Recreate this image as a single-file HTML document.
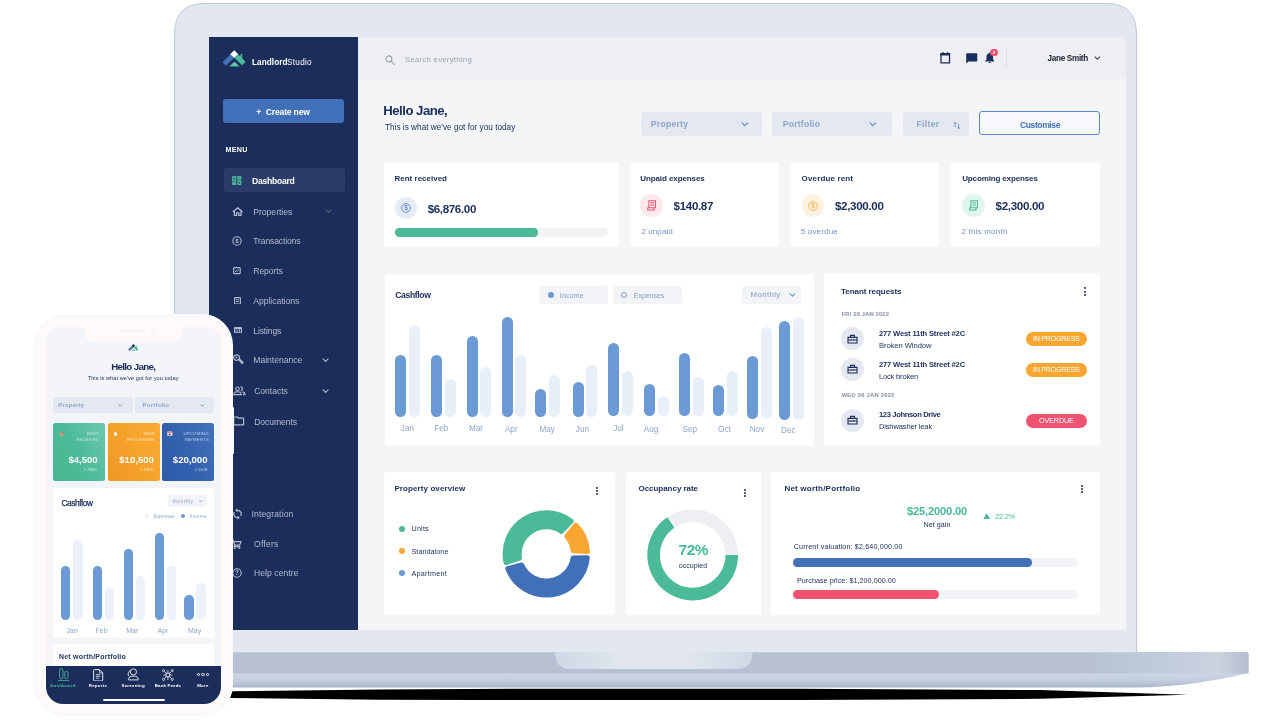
<!DOCTYPE html>
<html lang="en"><head><meta charset="utf-8"><title>Landlord Studio</title>
<style>
html,body{margin:0;padding:0;background:#fff;}
body{width:1280px;height:720px;position:relative;overflow:hidden;font-family:"Liberation Sans",sans-serif;}
body>div,body>svg,body>span{position:absolute;}
.t{position:absolute;white-space:nowrap;line-height:1.08;}
</style></head><body>
<svg style="left:0;top:0" width="1280" height="720" viewBox="0 0 1280 720"><defs><linearGradient id="gb" x1="0" x2="1" y1="0" y2="0"><stop offset="0" stop-color="#b7c1d3"/><stop offset="0.86" stop-color="#b7c1d3"/><stop offset="0.9" stop-color="#bcc7da"/><stop offset="0.935" stop-color="#c1ccde"/><stop offset="0.96" stop-color="#c7d0de"/><stop offset="0.974" stop-color="#ccd3dd"/><stop offset="0.986" stop-color="#c0c9d8"/><stop offset="1" stop-color="#b4bfd1"/></linearGradient><linearGradient id="gu" x1="0" x2="0" y1="0" y2="1"><stop offset="0" stop-color="#cdd7e6"/><stop offset="0.5" stop-color="#c3cee0"/><stop offset="1" stop-color="#aab5ca"/></linearGradient><linearGradient id="gn" x1="0" x2="1" y1="0" y2="0"><stop offset="0" stop-color="#cfd8e5"/><stop offset="0.33" stop-color="#e1e6ef"/><stop offset="0.67" stop-color="#e1e6ef"/><stop offset="1" stop-color="#cfd8e5"/></linearGradient></defs><path d="M60 693.3 L232 691.2 L380 689.4 L520 688.8 L800 688.8 L1040 690 L1188 694.7 L1040 698.8 L800 700 L480 700 L380 699.7 L232 698 L60 696 Z" fill="#000"/><path d="M60 673 L1248.7 673 C1215 681 1175 687.5 1135 687.5 L60 687.5 Z" fill="url(#gu)"/><path d="M60 652 L1246.7 652 Q1248.7 652 1248.7 654 L1248.7 673.5 L60 673.5 Z" fill="url(#gb)"/><path d="M174.5 652.2 L174.5 34 Q174.5 3.5 205 3.5 L1106 3.5 Q1136.5 3.5 1136.5 34 L1136.5 652.2 Z" fill="#e2e7f0"/><path d="M174.5 652 L174.5 34 Q174.5 3.5 205 3.5 L1106 3.5 Q1136.5 3.5 1136.5 34 L1136.5 652" fill="none" stroke="#bfc9d8" stroke-width="1"/><path d="M555 652 L752.5 652 Q752.5 669 737 669 L570.5 669 Q555 669 555 652 Z" fill="url(#gn)"/></svg>
<div style="left:209.0px;top:37.0px;width:917.3px;height:593.0px;background:#f3f5f7;"></div>
<div style="left:358.0px;top:37.0px;width:768.3px;height:42.2px;background:#eeeff2;"></div>
<div style="left:209.0px;top:37.0px;width:149.0px;height:593.0px;background:#1b2d5a;"></div>
<svg style="left:222.30px;top:50.40px;" width="24.00" height="17.00" viewBox="0 0 24 17"><polygon points="8.4,4.5 0.4,12.2 3.9,15.65 12.0,7.9" fill="#4170b8"/><polygon points="12.3,0.2 16.2,4.3 12.3,8.0 8.1,4.3" fill="#fff"/><polygon points="15.9,4.5 12.6,7.9 20.0,15.2 23.6,12.0 20.2,8.35 20.2,4.1 18.5,4.1 18.5,6.6" fill="#4aba98"/><polygon points="7.3,16.5 17.6,16.5 12.5,11.4" fill="#62c4a6"/></svg>
<span class="t" style="left:252.00px;top:59.27px;font-size:8.20px;color:#fff;"><b style="letter-spacing:0.066px;margin-right:-0.50px">Landlord</b><span style="letter-spacing:0.275px">Studio</span></span>
<div style="left:222.5px;top:99.0px;width:121.3px;height:24.4px;background:#4170b8;border-radius:3.0px;"></div>
<span class="t" style="left:256.20px;top:107.66px;font-size:8.60px;color:#fff;font-weight:700;white-space:pre;"><span style="margin-right:2.19px">+ </span><span style="letter-spacing:-0.189px">Create new</span></span>
<span class="t" style="left:225.60px;top:146.01px;font-size:7.20px;color:#fff;font-weight:700;letter-spacing:0.200px;">MENU</span>
<div style="left:224.3px;top:168.3px;width:120.7px;height:23.7px;background:#2a3c69;border-radius:3.0px;"></div>
<span class="t" style="left:252.00px;top:176.86px;font-size:8.60px;color:#fff;font-weight:700;letter-spacing:-0.269px;">Dashboard</span>
<span class="t" style="left:253.30px;top:208.06px;font-size:8.60px;color:#b3bccf;letter-spacing:-0.020px;">Properties</span>
<span class="t" style="left:253.30px;top:237.06px;font-size:8.60px;color:#b3bccf;letter-spacing:-0.159px;">Transactions</span>
<span class="t" style="left:253.30px;top:267.26px;font-size:8.60px;color:#b3bccf;letter-spacing:-0.088px;">Reports</span>
<span class="t" style="left:253.30px;top:296.96px;font-size:8.60px;color:#b3bccf;letter-spacing:-0.031px;">Applications</span>
<span class="t" style="left:253.30px;top:326.66px;font-size:8.60px;color:#b3bccf;letter-spacing:-0.145px;">Listings</span>
<span class="t" style="left:253.30px;top:356.26px;font-size:8.60px;color:#b3bccf;letter-spacing:-0.022px;">Maintenance</span>
<span class="t" style="left:254.20px;top:387.26px;font-size:8.60px;color:#b3bccf;letter-spacing:-0.042px;">Contacts</span>
<span class="t" style="left:254.20px;top:417.56px;font-size:8.60px;color:#b3bccf;letter-spacing:-0.077px;">Documents</span>
<span class="t" style="left:251.50px;top:510.26px;font-size:8.60px;color:#b3bccf;letter-spacing:0.124px;">Integration</span>
<span class="t" style="left:254.00px;top:540.26px;font-size:8.60px;color:#b3bccf;letter-spacing:0.207px;">Offers</span>
<span class="t" style="left:254.00px;top:568.86px;font-size:8.60px;color:#b3bccf;letter-spacing:0.047px;">Help centre</span>
<svg style="left:324.90px;top:209.25px;" width="7.20" height="4.50" viewBox="0 0 8 5"><path d="M1.2 1 L4 3.8 L6.8 1" fill="none" stroke="#5b5f5c" stroke-width="1.2" stroke-linecap="round" stroke-linejoin="round"/></svg>
<svg style="left:322.20px;top:358.25px;" width="7.20" height="4.50" viewBox="0 0 8 5"><path d="M1.2 1 L4 3.8 L6.8 1" fill="none" stroke="#b3bccf" stroke-width="1.2" stroke-linecap="round" stroke-linejoin="round"/></svg>
<svg style="left:322.20px;top:388.95px;" width="7.20" height="4.50" viewBox="0 0 8 5"><path d="M1.2 1 L4 3.8 L6.8 1" fill="none" stroke="#b3bccf" stroke-width="1.2" stroke-linecap="round" stroke-linejoin="round"/></svg>
<svg style="left:232.30px;top:175.60px;" width="9.60" height="9.40" viewBox="0 0 9.6 9.4"><g fill="none" stroke="#4aba98" stroke-width="1.5"><rect x="0.9" y="0.9" width="2.6" height="4"/><rect x="6" y="0.9" width="2.6" height="2"/><rect x="0.9" y="7" width="2.6" height="1.5"/><rect x="6" y="5" width="2.6" height="3.5"/></g></svg>
<svg style="left:231.60px;top:206.60px;" width="11.40" height="9.40" viewBox="0 0 11.4 9.4"><path d="M0.8 5 L5.7 0.8 L10.6 5 M2.4 4.2 V8.7 H4.6 V6 H6.8 V8.7 H9 V4.2" fill="none" stroke="#b3bccf" stroke-width="1.25" stroke-linejoin="round"/></svg>
<svg style="left:231.80px;top:236.30px;" width="10.00" height="10.00" viewBox="0 0 10 10"><circle cx="5" cy="5" r="4.2" fill="none" stroke="#b3bccf" stroke-width="1.1"/><text x="5" y="7.3" font-size="6.2" font-weight="700" text-anchor="middle" fill="#b3bccf" font-family="Liberation Sans, sans-serif">$</text></svg>
<svg style="left:233.20px;top:267.20px;" width="8.00" height="7.60" viewBox="0 0 8 7.6"><rect x="0.6" y="0.6" width="6.6" height="6" rx="0.7" fill="none" stroke="#b3bccf" stroke-width="1.1"/><path d="M2 5.2 L3.2 3.6 L4.4 4.4 L5.8 2.4" fill="none" stroke="#b3bccf" stroke-width="0.9"/></svg>
<svg style="left:233.80px;top:296.60px;" width="7.20" height="7.80" viewBox="0 0 7.2 7.8"><rect x="0.6" y="0.6" width="5.8" height="6.4" rx="0.5" fill="none" stroke="#b3bccf" stroke-width="1.1"/><path d="M2 2.8 H5 M2 4.6 H5" stroke="#b3bccf" stroke-width="0.9"/></svg>
<svg style="left:233.70px;top:326.60px;" width="8.20" height="6.60" viewBox="0 0 8.2 6.6"><rect x="0.55" y="0.55" width="6.9" height="5.2" rx="0.4" fill="none" stroke="#b3bccf" stroke-width="1.1"/><path d="M0.5 1.4 H7.5" stroke="#b3bccf" stroke-width="1.5"/><path d="M5.4 1.6 V5.6" stroke="#b3bccf" stroke-width="0.9"/><path d="M1.4 3.4 H4.4 M1.4 4.6 H4.4" stroke="#b3bccf" stroke-width="0.6"/></svg>
<svg style="left:232.50px;top:354.40px;" width="11.00" height="11.00" viewBox="0 0 11 11"><path d="M3.4 0.8 a2.8 2.8 0 1 0 2.2 4.6 L9.2 9.6 L10.2 8.6 L6.2 4.6 a2.8 2.8 0 0 0 -2.8 -3.8 Z" fill="none" stroke="#b3bccf" stroke-width="1.2" stroke-linejoin="round"/><circle cx="3.4" cy="3.4" r="0.9" fill="#b3bccf"/></svg>
<svg style="left:232.80px;top:386.40px;" width="13.00" height="10.00" viewBox="0 0 13 10"><circle cx="4.5" cy="2.8" r="1.8" fill="none" stroke="#b3bccf" stroke-width="1.1"/><path d="M0.8 8.6 C0.8 6.4 2.6 5.8 4.5 5.8 C6.4 5.8 8.2 6.4 8.2 8.6 Z" fill="none" stroke="#b3bccf" stroke-width="1.1"/><path d="M7.6 0.9 a1.9 1.9 0 0 1 0 3.8 M9.4 5.9 c1.6 0.3 2.6 1 2.6 2.7 h-2" fill="none" stroke="#b3bccf" stroke-width="1.1"/></svg>
<svg style="left:233.00px;top:416.20px;" width="12.00" height="10.00" viewBox="0 0 12 10"><path d="M0.7 1 H4.2 L5.4 2.2 H10.6 V8.8 H0.7 Z" fill="none" stroke="#b3bccf" stroke-width="1.2" stroke-linejoin="round"/></svg>
<svg style="left:232.80px;top:508.00px;" width="9.00" height="12.00" viewBox="0 0 9 12"><path d="M4.5 2.3 a3.7 3.7 0 0 1 3.2 5.6 M4.5 9.7 a3.7 3.7 0 0 1 -3.2 -5.6" fill="none" stroke="#b3bccf" stroke-width="1.2"/><path d="M4.5 0.2 L4.5 4.4 L2.2 2.3 Z M4.5 7.6 L4.5 11.8 L6.8 9.7 Z" fill="#b3bccf"/></svg>
<svg style="left:231.20px;top:538.80px;" width="10.60" height="10.60" viewBox="0 0 10.6 10.6"><path d="M0.5 1 H2.2 L3.6 6.2 H8.6 L10 2.6 H2.8 M3.6 6.2 L3 7.6 H9.2" fill="none" stroke="#b3bccf" stroke-width="1.2" stroke-linejoin="round"/><circle cx="3.8" cy="9.3" r="0.95" fill="#b3bccf"/><circle cx="8.4" cy="9.3" r="0.95" fill="#b3bccf"/></svg>
<svg style="left:232.30px;top:568.20px;" width="10.00" height="10.00" viewBox="0 0 10 10"><circle cx="5" cy="5" r="4.2" fill="none" stroke="#b3bccf" stroke-width="1.1"/><text x="5" y="7.3" font-size="6.4" font-weight="700" text-anchor="middle" fill="#b3bccf" font-family="Liberation Sans, sans-serif">?</text></svg>
<svg style="left:384.60px;top:55.20px;" width="10.00" height="10.40" viewBox="0 0 10 10.4"><circle cx="3.9" cy="3.9" r="3" fill="none" stroke="#9aa1ad" stroke-width="1.05"/><path d="M6.2 6.2 L9.2 9.4" stroke="#9aa1ad" stroke-width="1.2" stroke-linecap="round"/></svg>
<span class="t" style="left:405.00px;top:56.19px;font-size:7.80px;color:#9aa3b5;letter-spacing:0.243px;">Search everything</span>
<svg style="left:940.00px;top:52.00px;" width="10.50" height="11.50" viewBox="0 0 10.5 11.5"><path d="M1 1.6 H9.5 V10.8 H1 Z" fill="none" stroke="#1b2d5a" stroke-width="1.3"/><path d="M0.4 1 H10.1 V3.6 H0.4 Z M2.4 0 H3.6 V1.4 H2.4 Z M6.9 0 H8.1 V1.4 H6.9 Z" fill="#1b2d5a"/></svg>
<svg style="left:966.00px;top:53.00px;" width="11.50" height="10.80" viewBox="0 0 11.5 10.8"><path d="M1 0.3 H10.5 Q11.3 0.3 11.3 1.1 V7.6 Q11.3 8.4 10.5 8.4 H2.6 L0.2 10.6 V1.1 Q0.2 0.3 1 0.3 Z" fill="#1b2d5a"/></svg>
<svg style="left:984.60px;top:52.00px;" width="9.60" height="11.60" viewBox="0 0 9.6 11.6"><path d="M4.8 0.4 C5.3 0.4 5.6 0.8 5.6 1.3 C7.3 1.8 8.1 3.2 8.1 5 V7.6 L9.4 8.9 V9.5 H0.2 V8.9 L1.5 7.6 V5 C1.5 3.2 2.3 1.8 4 1.3 C4 0.8 4.3 0.4 4.8 0.4 Z M3.7 10.1 H5.9 A1.1 1.1 0 0 1 3.7 10.1 Z" fill="#1b2d5a"/></svg>
<div style="left:990.3px;top:48.8px;width:7.4px;height:7.4px;background:#f0506e;border-radius:50%;"></div>
<span class="t" style="left:992.83px;top:51.23px;font-size:4.20px;color:#fff;font-weight:700;">2</span>
<div style="left:1005.6px;top:46.2px;width:1.0px;height:22.0px;background:#dfe1e6;"></div>
<span class="t" style="left:1047.60px;top:54.67px;font-size:8.20px;color:#1a1f2c;font-weight:700;letter-spacing:-0.335px;">Jane Smith</span>
<svg style="left:1093.60px;top:56.08px;" width="6.80" height="4.25" viewBox="0 0 8 5"><path d="M1.2 1 L4 3.8 L6.8 1" fill="none" stroke="#3a4152" stroke-width="1.2" stroke-linecap="round" stroke-linejoin="round"/></svg>
<span class="t" style="left:383.30px;top:103.87px;font-size:13.20px;color:#1b2d5a;font-weight:700;letter-spacing:-0.518px;">Hello Jane,</span>
<span class="t" style="left:385.00px;top:124.17px;font-size:8.20px;color:#1b2d5a;letter-spacing:0.024px;">This is what we&#x27;ve got for you today</span>
<div style="left:640.5px;top:112.0px;width:121.2px;height:24.0px;background:#e3e8f1;border-radius:3.0px;"></div>
<span class="t" style="left:650.80px;top:120.46px;font-size:8.60px;color:#8ea4cc;font-weight:700;letter-spacing:0.267px;">Property</span>
<svg style="left:741.00px;top:121.83px;" width="7.60" height="4.75" viewBox="0 0 8 5"><path d="M1.2 1 L4 3.8 L6.8 1" fill="none" stroke="#6f8fc6" stroke-width="1.3" stroke-linecap="round" stroke-linejoin="round"/></svg>
<div style="left:771.5px;top:112.0px;width:120.5px;height:24.0px;background:#e3e8f1;border-radius:3.0px;"></div>
<span class="t" style="left:782.70px;top:120.26px;font-size:8.60px;color:#8ea4cc;font-weight:700;letter-spacing:0.239px;">Portfolio</span>
<svg style="left:868.60px;top:122.03px;" width="7.60" height="4.75" viewBox="0 0 8 5"><path d="M1.2 1 L4 3.8 L6.8 1" fill="none" stroke="#6f8fc6" stroke-width="1.3" stroke-linecap="round" stroke-linejoin="round"/></svg>
<div style="left:902.8px;top:112.0px;width:66.0px;height:24.0px;background:#e3e8f1;border-radius:3.0px;"></div>
<span class="t" style="left:916.50px;top:120.06px;font-size:8.60px;color:#8ea4cc;font-weight:700;letter-spacing:0.329px;">Filter</span>
<svg style="left:952.50px;top:120.50px;" width="8.00" height="9.00" viewBox="0 0 8 9"><path d="M2.2 6 V1.2 M0.8 2.6 L2.2 1.2 L3.6 2.6 M5.6 3 V7.8 M4.2 6.4 L5.6 7.8 L7 6.4" fill="none" stroke="#6f8fc6" stroke-width="0.9"/></svg>
<div style="left:979px;top:111px;width:120.6px;height:24.4px;box-sizing:border-box;border:1px solid #5d86c6;border-radius:3px;background:#f6f8fb"></div>
<span class="t" style="left:1020.00px;top:120.66px;font-size:8.60px;color:#4170b8;font-weight:700;letter-spacing:-0.441px;">Customise</span>
<div style="left:384.3px;top:162.4px;width:234.5px;height:84.9px;background:#fff;border-radius:3.0px;"></div>
<div style="left:629.9px;top:162.4px;width:149.2px;height:84.9px;background:#fff;border-radius:3.0px;"></div>
<div style="left:790.0px;top:162.4px;width:149.2px;height:84.9px;background:#fff;border-radius:3.0px;"></div>
<div style="left:950.2px;top:162.4px;width:149.7px;height:84.9px;background:#fff;border-radius:3.0px;"></div>
<span class="t" style="left:394.50px;top:174.78px;font-size:8.00px;color:#1b2d5a;font-weight:700;letter-spacing:0.002px;">Rent received</span>
<span class="t" style="left:640.20px;top:174.98px;font-size:8.00px;color:#1b2d5a;font-weight:700;letter-spacing:-0.087px;">Unpaid expenses</span>
<span class="t" style="left:801.60px;top:174.98px;font-size:8.00px;color:#1b2d5a;font-weight:700;letter-spacing:0.142px;">Overdue rent</span>
<span class="t" style="left:962.20px;top:174.98px;font-size:8.00px;color:#1b2d5a;font-weight:700;letter-spacing:-0.135px;">Upcoming expenses</span>
<div style="left:394.5px;top:196.9px;width:22.6px;height:22.6px;background:#e6ecf7;border-radius:50%;"></div>
<svg style="left:400.80px;top:203.20px;" width="10.00" height="10.00" viewBox="0 0 9 9"><circle cx="4.5" cy="4.5" r="3.9" fill="none" stroke="#4170b8" stroke-width="0.7"/><text x="4.5" y="6.6" font-size="5.8" font-weight="400" text-anchor="middle" fill="#4170b8" font-family="Liberation Sans, sans-serif">$</text></svg>
<span class="t" style="left:427.70px;top:203.44px;font-size:11.60px;color:#1b2d5a;font-weight:700;letter-spacing:-0.367px;">$6,876.00</span>
<div style="left:395.0px;top:228.1px;width:212.5px;height:8.6px;background:#f1f3f6;border-radius:4.3px;"></div>
<div style="left:395.0px;top:228.1px;width:142.5px;height:8.6px;background:#4aba98;border-radius:4.3px;"></div>
<div style="left:640.3px;top:194.3px;width:22.6px;height:22.6px;background:#fde8ec;border-radius:50%;"></div>
<svg style="left:646.90px;top:200.30px;" width="9.40" height="11.00" viewBox="0 0 8 9.4"><path d="M1.6 0.6 H7.2 V6.6 H1.6 Z M0.6 6.6 H6 V8.6 H0.6 Z M2.8 2.4 H6 M2.8 4.2 H6" fill="none" stroke="#ef5370" stroke-width="0.9"/></svg>
<span class="t" style="left:673.60px;top:200.14px;font-size:11.60px;color:#1b2d5a;font-weight:700;letter-spacing:-0.347px;">$140.87</span>
<span class="t" style="left:641.40px;top:227.53px;font-size:8.10px;color:#7690c6;letter-spacing:0.053px;">2 unpaid</span>
<div style="left:801.7px;top:194.3px;width:22.6px;height:22.6px;background:#fef1e0;border-radius:50%;"></div>
<svg style="left:808.00px;top:200.60px;" width="10.00" height="10.00" viewBox="0 0 9 9"><circle cx="4.5" cy="4.5" r="3.9" fill="none" stroke="#f9a531" stroke-width="0.7"/><text x="4.5" y="6.6" font-size="5.8" font-weight="400" text-anchor="middle" fill="#f9a531" font-family="Liberation Sans, sans-serif">$</text></svg>
<span class="t" style="left:835.00px;top:200.14px;font-size:11.60px;color:#1b2d5a;font-weight:700;letter-spacing:-0.334px;">$2,300.00</span>
<span class="t" style="left:800.80px;top:227.53px;font-size:8.10px;color:#7690c6;letter-spacing:0.130px;">5 overdue</span>
<div style="left:962.3px;top:194.3px;width:22.6px;height:22.6px;background:#e2f4ee;border-radius:50%;"></div>
<svg style="left:968.90px;top:200.30px;" width="9.40" height="11.00" viewBox="0 0 8 9.4"><path d="M1.6 0.6 H7.2 V6.6 H1.6 Z M0.6 6.6 H6 V8.6 H0.6 Z M2.8 2.4 H6 M2.8 4.2 H6" fill="none" stroke="#4aba98" stroke-width="0.9"/></svg>
<span class="t" style="left:995.60px;top:200.14px;font-size:11.60px;color:#1b2d5a;font-weight:700;letter-spacing:-0.334px;">$2,300.00</span>
<span class="t" style="left:961.40px;top:227.53px;font-size:8.10px;color:#7690c6;letter-spacing:0.173px;">2 this month</span>
<div style="left:384.6px;top:273.6px;width:429.0px;height:172.4px;background:#fff;border-radius:3.0px;"></div>
<span class="t" style="left:395.20px;top:291.26px;font-size:8.60px;color:#1b2d5a;font-weight:700;letter-spacing:-0.353px;">Cashflow</span>
<div style="left:539.3px;top:286.2px;width:68.7px;height:17.6px;background:#f2f4f8;border-radius:3.0px;"></div>
<div style="left:547.5px;top:291.8px;width:6.4px;height:6.4px;background:#6b9ad4;border-radius:50%;"></div>
<span class="t" style="left:559.80px;top:291.62px;font-size:7.00px;color:#8299c6;letter-spacing:0.174px;">Income</span>
<div style="left:613.0px;top:286.2px;width:68.7px;height:17.6px;background:#f2f4f8;border-radius:3.0px;"></div>
<div style="left:620.9px;top:291.5px;width:6.6px;height:6.6px;box-sizing:border-box;border:0.85px solid #7d97c4;border-radius:50%"></div>
<span class="t" style="left:633.80px;top:291.62px;font-size:7.00px;color:#8299c6;letter-spacing:-0.030px;">Expenses</span>
<div style="left:742.0px;top:286.2px;width:59.3px;height:17.6px;background:#f2f4f8;border-radius:3.0px;"></div>
<span class="t" style="left:750.60px;top:291.09px;font-size:7.80px;color:#8299c6;letter-spacing:0.384px;">Monthly</span>
<svg style="left:788.90px;top:293.27px;" width="6.80" height="4.25" viewBox="0 0 8 5"><path d="M1.2 1 L4 3.8 L6.8 1" fill="none" stroke="#6f8fc6" stroke-width="1.2" stroke-linecap="round" stroke-linejoin="round"/></svg>
<div style="left:409.2px;top:325.0px;width:11.0px;height:92.4px;background:#e8eff9;border-radius:5.5px;"></div>
<div style="left:395.2px;top:354.9px;width:11.0px;height:62.5px;background:#6b9ad4;border-radius:5.5px;"></div>
<div style="left:444.8px;top:378.6px;width:11.0px;height:38.8px;background:#e8eff9;border-radius:5.5px;"></div>
<div style="left:430.8px;top:354.9px;width:11.0px;height:62.5px;background:#6b9ad4;border-radius:5.5px;"></div>
<div style="left:480.4px;top:366.7px;width:11.0px;height:50.7px;background:#e8eff9;border-radius:5.5px;"></div>
<div style="left:466.7px;top:335.8px;width:11.0px;height:81.6px;background:#6b9ad4;border-radius:5.5px;"></div>
<div style="left:515.2px;top:355.2px;width:11.0px;height:62.2px;background:#e8eff9;border-radius:5.5px;"></div>
<div style="left:501.6px;top:316.8px;width:11.0px;height:100.6px;background:#6b9ad4;border-radius:5.5px;"></div>
<div style="left:549.4px;top:375.0px;width:11.0px;height:42.4px;background:#e8eff9;border-radius:5.5px;"></div>
<div style="left:535.3px;top:388.6px;width:11.0px;height:28.8px;background:#6b9ad4;border-radius:5.5px;"></div>
<div style="left:586.4px;top:365.3px;width:11.0px;height:51.4px;background:#e8eff9;border-radius:5.5px;"></div>
<div style="left:572.7px;top:381.8px;width:11.0px;height:34.9px;background:#6b9ad4;border-radius:5.5px;"></div>
<div style="left:622.0px;top:370.7px;width:11.0px;height:45.3px;background:#e8eff9;border-radius:5.5px;"></div>
<div style="left:607.9px;top:343.0px;width:11.0px;height:73.0px;background:#6b9ad4;border-radius:5.5px;"></div>
<div style="left:657.9px;top:395.8px;width:11.0px;height:20.2px;background:#e8eff9;border-radius:5.5px;"></div>
<div style="left:643.9px;top:384.3px;width:11.0px;height:31.7px;background:#6b9ad4;border-radius:5.5px;"></div>
<div style="left:692.7px;top:376.8px;width:11.0px;height:39.2px;background:#e8eff9;border-radius:5.5px;"></div>
<div style="left:678.7px;top:353.0px;width:11.0px;height:63.0px;background:#6b9ad4;border-radius:5.5px;"></div>
<div style="left:726.9px;top:371.0px;width:11.0px;height:45.0px;background:#e8eff9;border-radius:5.5px;"></div>
<div style="left:712.9px;top:385.4px;width:11.0px;height:30.6px;background:#6b9ad4;border-radius:5.5px;"></div>
<div style="left:761.0px;top:326.5px;width:11.0px;height:92.3px;background:#e8eff9;border-radius:5.5px;"></div>
<div style="left:747.0px;top:356.0px;width:11.0px;height:62.8px;background:#6b9ad4;border-radius:5.5px;"></div>
<div style="left:792.6px;top:316.8px;width:11.0px;height:103.5px;background:#e8eff9;border-radius:5.5px;"></div>
<div style="left:779.0px;top:321.4px;width:11.0px;height:98.9px;background:#6b9ad4;border-radius:5.5px;"></div>
<span class="t" style="left:400.79px;top:424.97px;font-size:8.20px;color:#8ea4cc;">Jan</span>
<span class="t" style="left:434.13px;top:425.07px;font-size:8.20px;color:#8ea4cc;">Feb</span>
<span class="t" style="left:468.94px;top:425.27px;font-size:8.20px;color:#8ea4cc;">Mar</span>
<span class="t" style="left:504.92px;top:425.67px;font-size:8.20px;color:#8ea4cc;">Apr</span>
<span class="t" style="left:539.45px;top:425.67px;font-size:8.20px;color:#8ea4cc;">May</span>
<span class="t" style="left:575.79px;top:425.67px;font-size:8.20px;color:#8ea4cc;">Jun</span>
<span class="t" style="left:613.16px;top:425.47px;font-size:8.20px;color:#8ea4cc;">Jul</span>
<span class="t" style="left:643.70px;top:426.27px;font-size:8.20px;color:#8ea4cc;">Aug</span>
<span class="t" style="left:682.60px;top:426.47px;font-size:8.20px;color:#8ea4cc;">Sep</span>
<span class="t" style="left:718.02px;top:426.27px;font-size:8.20px;color:#8ea4cc;">Oct</span>
<span class="t" style="left:749.71px;top:426.27px;font-size:8.20px;color:#8ea4cc;">Nov</span>
<span class="t" style="left:781.01px;top:426.77px;font-size:8.20px;color:#8ea4cc;">Dec</span>
<div style="left:824.4px;top:273.4px;width:275.6px;height:172.6px;background:#fff;border-radius:3.0px;"></div>
<span class="t" style="left:841.00px;top:288.38px;font-size:8.00px;color:#1b2d5a;font-weight:700;letter-spacing:-0.047px;">Tenant requests</span>
<div style="left:1084.3px;top:287.4px;width:2.0px;height:2.0px;background:#1b2d5a;border-radius:50%;"></div>
<div style="left:1084.3px;top:290.5px;width:2.0px;height:2.0px;background:#1b2d5a;border-radius:50%;"></div>
<div style="left:1084.3px;top:293.6px;width:2.0px;height:2.0px;background:#1b2d5a;border-radius:50%;"></div>
<span class="t" style="left:841.70px;top:311.32px;font-size:5.70px;color:#9aa2b1;font-weight:700;letter-spacing:0.210px;-webkit-text-stroke:0.2px #9aa2b1;">FRI 28 JAN 2022</span>
<span class="t" style="left:841.70px;top:391.72px;font-size:5.70px;color:#9aa2b1;font-weight:700;letter-spacing:0.302px;-webkit-text-stroke:0.2px #9aa2b1;">WED 26 JAN 2022</span>
<div style="left:841.1px;top:327.4px;width:23.0px;height:23.0px;background:#e3e8f1;border-radius:50%;"></div>
<svg style="left:847.00px;top:333.90px;" width="11.00" height="10.00" viewBox="0 0 11 10"><path d="M1 3.4 H10 V9 H1 Z M3.6 3.2 V1.4 H7.4 V3.2 M1 6 H10 M4.2 5.2 V6.8 M6.8 5.2 V6.8" fill="none" stroke="#1b2d5a" stroke-width="1.1"/></svg>
<span class="t" style="left:878.90px;top:330.40px;font-size:7.60px;color:#1b2d5a;font-weight:700;letter-spacing:-0.152px;">277 West 11th Street #2C</span>
<span class="t" style="left:878.90px;top:342.10px;font-size:7.60px;color:#1b2d5a;letter-spacing:-0.048px;">Broken Window</span>
<div style="left:1025.6px;top:332.1px;width:61.6px;height:13.9px;background:#f9a531;border-radius:7.0px;"></div>
<span class="t" style="left:1033.10px;top:335.26px;font-size:7.20px;color:#fff;letter-spacing:-0.310px;">IN PROGRESS</span>
<div style="left:841.1px;top:357.9px;width:23.0px;height:23.0px;background:#e3e8f1;border-radius:50%;"></div>
<svg style="left:847.00px;top:364.40px;" width="11.00" height="10.00" viewBox="0 0 11 10"><path d="M1 3.4 H10 V9 H1 Z M3.6 3.2 V1.4 H7.4 V3.2 M1 6 H10 M4.2 5.2 V6.8 M6.8 5.2 V6.8" fill="none" stroke="#1b2d5a" stroke-width="1.1"/></svg>
<span class="t" style="left:878.90px;top:361.20px;font-size:7.60px;color:#1b2d5a;font-weight:700;letter-spacing:-0.152px;">277 West 11th Street #2C</span>
<span class="t" style="left:878.90px;top:372.60px;font-size:7.60px;color:#1b2d5a;letter-spacing:-0.200px;">Lock broken</span>
<div style="left:1025.6px;top:363.0px;width:61.6px;height:13.9px;background:#f9a531;border-radius:7.0px;"></div>
<span class="t" style="left:1033.10px;top:366.16px;font-size:7.20px;color:#fff;letter-spacing:-0.310px;">IN PROGRESS</span>
<div style="left:841.1px;top:408.5px;width:23.0px;height:23.0px;background:#e3e8f1;border-radius:50%;"></div>
<svg style="left:847.00px;top:415.00px;" width="11.00" height="10.00" viewBox="0 0 11 10"><path d="M1 3.4 H10 V9 H1 Z M3.6 3.2 V1.4 H7.4 V3.2 M1 6 H10 M4.2 5.2 V6.8 M6.8 5.2 V6.8" fill="none" stroke="#1b2d5a" stroke-width="1.1"/></svg>
<span class="t" style="left:878.90px;top:411.10px;font-size:7.60px;color:#1b2d5a;font-weight:700;letter-spacing:-0.352px;">123 Johnson Drive</span>
<span class="t" style="left:878.90px;top:423.20px;font-size:7.60px;color:#1b2d5a;letter-spacing:-0.171px;">Dishwasher leak</span>
<div style="left:1025.6px;top:413.5px;width:61.6px;height:14.0px;background:#ef5370;border-radius:7.0px;"></div>
<span class="t" style="left:1038.90px;top:416.71px;font-size:7.20px;color:#fff;letter-spacing:-0.087px;">OVERDUE</span>
<div style="left:383.6px;top:472.3px;width:231.7px;height:142.8px;background:#fff;border-radius:3.0px;"></div>
<span class="t" style="left:394.40px;top:485.38px;font-size:8.00px;color:#1b2d5a;font-weight:700;letter-spacing:0.096px;">Property overview</span>
<div style="left:596.2px;top:486.9px;width:2.0px;height:2.0px;background:#1b2d5a;border-radius:50%;"></div>
<div style="left:596.2px;top:490.0px;width:2.0px;height:2.0px;background:#1b2d5a;border-radius:50%;"></div>
<div style="left:596.2px;top:493.1px;width:2.0px;height:2.0px;background:#1b2d5a;border-radius:50%;"></div>
<div style="left:399.2px;top:525.6px;width:6.2px;height:6.2px;background:#4aba98;border-radius:50%;"></div>
<span class="t" style="left:411.50px;top:525.41px;font-size:7.20px;color:#1b2d5a;letter-spacing:0.199px;">Units</span>
<div style="left:399.2px;top:547.9px;width:6.2px;height:6.2px;background:#f9a531;border-radius:50%;"></div>
<span class="t" style="left:411.50px;top:547.71px;font-size:7.20px;color:#1b2d5a;letter-spacing:0.057px;">Standalone</span>
<div style="left:399.2px;top:570.3px;width:6.2px;height:6.2px;background:#6b9ad4;border-radius:50%;"></div>
<span class="t" style="left:411.50px;top:570.11px;font-size:7.20px;color:#1b2d5a;letter-spacing:0.265px;">Apartment</span>
<svg style="left:0;top:0" width="1280" height="720" viewBox="0 0 1280 720"><path d="M506.10 562.47 A41.10 41.10 0 0 1 571.06 521.09 L561.34 531.24 A27.20 27.20 0 0 0 519.40 557.96 Z" fill="#4aba98" stroke="#4aba98" stroke-width="5.20" stroke-linejoin="round"/><path d="M575.84 525.33 A41.10 41.10 0 0 1 587.33 551.42 L573.30 550.62 A27.20 27.20 0 0 0 566.96 536.21 Z" fill="#f9a531" stroke="#f9a531" stroke-width="5.20" stroke-linejoin="round"/><path d="M587.21 557.81 A41.10 41.10 0 0 1 507.92 568.60 L521.53 565.14 A27.20 27.20 0 0 0 573.17 558.12 Z" fill="#4170b8" stroke="#4170b8" stroke-width="5.20" stroke-linejoin="round"/></svg>
<div style="left:625.7px;top:472.3px;width:135.3px;height:142.8px;background:#fff;border-radius:3.0px;"></div>
<span class="t" style="left:638.50px;top:485.38px;font-size:8.00px;color:#1b2d5a;font-weight:700;letter-spacing:-0.038px;">Occupancy rate</span>
<div style="left:743.8px;top:488.9px;width:2.0px;height:2.0px;background:#1b2d5a;border-radius:50%;"></div>
<div style="left:743.8px;top:492.0px;width:2.0px;height:2.0px;background:#1b2d5a;border-radius:50%;"></div>
<div style="left:743.8px;top:495.1px;width:2.0px;height:2.0px;background:#1b2d5a;border-radius:50%;"></div>
<svg style="left:0;top:0" width="1280" height="720" viewBox="0 0 1280 720"><circle cx="692.70" cy="555.00" r="39.10" fill="none" stroke="#edeff2" stroke-width="12.60"/><path d="M731.80 555.00 A39.10 39.10 0 1 1 670.84 522.58" fill="none" stroke="#4aba98" stroke-width="12.60"/></svg>
<span class="t" style="left:678.55px;top:542.03px;font-size:15.50px;color:#4aba98;font-weight:700;letter-spacing:-0.508px;">72%</span>
<span class="t" style="left:678.75px;top:561.72px;font-size:7.00px;color:#1b2d5a;letter-spacing:0.060px;">occupied</span>
<div style="left:771.4px;top:472.3px;width:328.6px;height:143.0px;background:#fff;border-radius:3.0px;"></div>
<span class="t" style="left:784.40px;top:485.28px;font-size:8.00px;color:#1b2d5a;font-weight:700;letter-spacing:0.211px;">Net worth/Portfolio</span>
<div style="left:1081.2px;top:484.5px;width:2.0px;height:2.0px;background:#1b2d5a;border-radius:50%;"></div>
<div style="left:1081.2px;top:487.6px;width:2.0px;height:2.0px;background:#1b2d5a;border-radius:50%;"></div>
<div style="left:1081.2px;top:490.7px;width:2.0px;height:2.0px;background:#1b2d5a;border-radius:50%;"></div>
<span class="t" style="left:907.00px;top:505.45px;font-size:11.20px;color:#4aba98;font-weight:700;letter-spacing:-0.190px;">$25,2000.00</span>
<span class="t" style="left:923.50px;top:521.11px;font-size:7.20px;color:#1b2d5a;letter-spacing:0.023px;">Net gain</span>
<svg style="left:983.00px;top:513.20px;" width="7.40" height="6.20" viewBox="0 0 7.4 6.2"><path d="M3.7 0.3 L7.1 5.9 H0.3 Z" fill="#4aba98"/></svg>
<span class="t" style="left:995.20px;top:513.41px;font-size:7.20px;color:#4aba98;letter-spacing:-0.083px;">22.2%</span>
<span class="t" style="left:793.70px;top:543.01px;font-size:7.20px;color:#1b2d5a;letter-spacing:0.129px;">Current valuation: $2,640,000.00</span>
<div style="left:792.5px;top:558.0px;width:285.5px;height:8.6px;background:#f1f3f6;border-radius:4.3px;"></div>
<div style="left:792.5px;top:558.0px;width:239.7px;height:8.6px;background:#4170b8;border-radius:4.3px;"></div>
<span class="t" style="left:797.00px;top:576.71px;font-size:7.20px;color:#1b2d5a;letter-spacing:0.032px;">Purchase price: $1,200,000.00</span>
<div style="left:792.5px;top:590.1px;width:285.5px;height:8.9px;background:#f1f3f6;border-radius:4.4px;"></div>
<div style="left:792.5px;top:590.1px;width:146.7px;height:8.9px;background:#ef5370;border-radius:4.4px;"></div>
<div style="left:231.0px;top:406.8px;width:3.2px;height:46.8px;background:#fbfafa;border-radius:1.2px;"></div>
<div style="left:34.2px;top:314.4px;width:198.8px;height:402.1px;background:#f8f9fb;border-radius:31px"></div>
<div style="left:37.3px;top:317.5px;width:192.9px;height:395.9px;background:#fdfaf9;border-radius:28px"></div>
<div style="left:46.2px;top:326.8px;width:174.4px;height:377.3px;background:#f3f5f8;border-radius:13px 13px 17px 17px"></div>
<svg style="left:0;top:0" width="1280" height="720" viewBox="0 0 1280 720"><path d="M78 326 H188 V326.8 Q182 326.8 182 331.5 V333 Q182 341.2 173.8 341.2 H93.2 Q85 341.2 85 333 V331.5 Q85 326.8 79.5 326.8 Z" fill="#fdfaf9"/><rect x="121" y="329.5" width="24.5" height="2.6" rx="1.3" fill="#f3f1f1"/><circle cx="154.6" cy="331" r="2.4" fill="#fdfaf9" stroke="#f0eeee" stroke-width="0.6"/></svg>
<svg style="left:128.20px;top:343.80px;" width="10.60" height="7.50" viewBox="0 0 24 17"><polygon points="8.4,4.5 0.4,12.2 3.9,15.65 12.0,7.9" fill="#4170b8"/><polygon points="12.3,0.2 16.2,4.3 12.3,8.0 8.1,4.3" fill="#1b2d5a"/><polygon points="15.9,4.5 12.6,7.9 20.0,15.2 23.6,12.0 20.2,8.35 20.2,4.1 18.5,4.1 18.5,6.6" fill="#4aba98"/><polygon points="7.3,16.5 17.6,16.5 12.5,11.4" fill="#62c4a6"/></svg>
<span class="t" style="left:111.20px;top:362.41px;font-size:9.80px;color:#1b2d5a;font-weight:700;letter-spacing:-0.704px;">Hello Jane,</span>
<span class="t" style="left:87.70px;top:375.38px;font-size:5.60px;color:#1b2d5a;letter-spacing:0.068px;">This is what we&#x27;ve got for you today</span>
<div style="left:52.8px;top:396.5px;width:80.0px;height:16.3px;background:#e3e8f1;border-radius:2.0px;"></div>
<span class="t" style="left:58.30px;top:402.46px;font-size:6.00px;color:#8ea4cc;font-weight:700;letter-spacing:0.166px;">Property</span>
<svg style="left:118.00px;top:403.90px;" width="4.80" height="3.00" viewBox="0 0 8 5"><path d="M1.2 1 L4 3.8 L6.8 1" fill="none" stroke="#6f8fc6" stroke-width="1.4" stroke-linecap="round" stroke-linejoin="round"/></svg>
<div style="left:135.0px;top:396.5px;width:79.0px;height:16.3px;background:#e3e8f1;border-radius:2.0px;"></div>
<span class="t" style="left:142.60px;top:402.26px;font-size:6.00px;color:#8ea4cc;font-weight:700;letter-spacing:0.204px;">Portfolio</span>
<svg style="left:200.20px;top:403.90px;" width="4.80" height="3.00" viewBox="0 0 8 5"><path d="M1.2 1 L4 3.8 L6.8 1" fill="none" stroke="#6f8fc6" stroke-width="1.4" stroke-linecap="round" stroke-linejoin="round"/></svg>
<div style="left:53.0px;top:423.3px;width:52.2px;height:57.5px;border-radius:2.5px;background:linear-gradient(60deg,#46b792 0%,#4dbb99 50%,#6ec7ad 100%)"></div>
<span class="t" style="left:87.00px;top:432.02px;font-size:4.40px;color:#fff;letter-spacing:-0.044px;opacity:0.62;">RENT</span>
<span class="t" style="left:76.40px;top:437.62px;font-size:4.40px;color:#fff;letter-spacing:-0.012px;opacity:0.62;">RECEIVED</span>
<span class="t" style="left:68.40px;top:455.02px;font-size:9.60px;color:#fff;font-weight:700;letter-spacing:-0.027px;">$4,500</span>
<span class="t" style="left:83.60px;top:468.42px;font-size:4.40px;color:#fff;letter-spacing:0.065px;opacity:0.62;">2 PAID</span>
<div style="left:108.0px;top:423.3px;width:51.7px;height:57.5px;border-radius:2.5px;background:linear-gradient(60deg,#ee9824 0%,#f5a22b 50%,#f9ab33 100%)"></div>
<span class="t" style="left:143.40px;top:432.02px;font-size:4.40px;color:#fff;letter-spacing:-0.044px;opacity:0.62;">RENT</span>
<span class="t" style="left:126.60px;top:437.62px;font-size:4.40px;color:#fff;letter-spacing:-0.074px;opacity:0.62;">PROCESSING</span>
<span class="t" style="left:119.20px;top:455.02px;font-size:9.60px;color:#fff;font-weight:700;letter-spacing:0.014px;">$10,500</span>
<span class="t" style="left:140.00px;top:468.42px;font-size:4.40px;color:#fff;letter-spacing:0.065px;opacity:0.62;">4 PAID</span>
<div style="left:162.0px;top:423.3px;width:52.0px;height:57.5px;border-radius:2.5px;background:linear-gradient(60deg,#2c59a8 0%,#3663b0 50%,#4472ba 100%)"></div>
<span class="t" style="left:183.40px;top:432.02px;font-size:4.40px;color:#fff;letter-spacing:0.150px;opacity:0.62;">UPCOMING</span>
<span class="t" style="left:184.60px;top:437.62px;font-size:4.40px;color:#fff;letter-spacing:0.081px;opacity:0.62;">PAYMENTS</span>
<span class="t" style="left:172.80px;top:455.02px;font-size:9.60px;color:#fff;font-weight:700;letter-spacing:0.014px;">$20,000</span>
<span class="t" style="left:195.00px;top:468.42px;font-size:4.40px;color:#fff;letter-spacing:-0.072px;opacity:0.62;">2 DUE</span>
<svg style="left:59.00px;top:431.20px;" width="5.40" height="5.60" viewBox="0 0 5.4 5.6"><path d="M0.6 5.2 L1.8 1 L4.8 3.6 Z" fill="#f6a04a"/><circle cx="3.2" cy="2.2" r="1" fill="#ef5370"/></svg>
<div style="left:113.5px;top:431.9px;width:3.8px;height:3.8px;background:#eef1f8;border-radius:50%;"></div>
<svg style="left:167.20px;top:431.40px;" width="5.60" height="5.20" viewBox="0 0 5.6 5.2"><rect x="0.3" y="0.6" width="5" height="4.2" rx="0.6" fill="#f3f5fa"/><rect x="0.3" y="0.6" width="5" height="1.4" fill="#ef7a6a"/><rect x="1.6" y="2.6" width="2.2" height="1.6" fill="#4a5f8f"/></svg>
<div style="left:53.0px;top:487.7px;width:161.0px;height:150.8px;background:#fff;border-radius:2.5px;"></div>
<span class="t" style="left:61.40px;top:498.76px;font-size:8.40px;color:#1b2d5a;letter-spacing:-0.394px;-webkit-text-stroke:0.25px #1b2d5a;">Cashflow</span>
<div style="left:167.8px;top:495.0px;width:39.7px;height:11.6px;background:#f0f3f8;border-radius:2.0px;"></div>
<span class="t" style="left:172.60px;top:499.00px;font-size:5.00px;color:#8ea4cc;letter-spacing:0.499px;">Monthly</span>
<svg style="left:199.20px;top:499.75px;" width="4.00" height="2.50" viewBox="0 0 8 5"><path d="M1.2 1 L4 3.8 L6.8 1" fill="none" stroke="#6f8fc6" stroke-width="1.5" stroke-linecap="round" stroke-linejoin="round"/></svg>
<div style="left:144.8px;top:514.2px;width:4.2px;height:4.2px;background:#e8eff9;border-radius:50%;"></div>
<span class="t" style="left:153.80px;top:514.82px;font-size:4.60px;color:#8ea4cc;letter-spacing:0.100px;">Expenses</span>
<div style="left:180.8px;top:514.1px;width:4.4px;height:4.4px;background:#6b9ad4;border-radius:50%;"></div>
<span class="t" style="left:189.70px;top:514.82px;font-size:4.60px;color:#8ea4cc;letter-spacing:0.352px;">Income</span>
<div style="left:73.4px;top:539.5px;width:9.4px;height:80.8px;background:#ecf1fa;border-radius:4.7px;"></div>
<div style="left:61.1px;top:565.7px;width:9.4px;height:54.6px;background:#6b9ad4;border-radius:4.7px;"></div>
<div style="left:104.7px;top:586.5px;width:9.4px;height:33.8px;background:#ecf1fa;border-radius:4.7px;"></div>
<div style="left:92.5px;top:565.7px;width:9.4px;height:54.6px;background:#6b9ad4;border-radius:4.7px;"></div>
<div style="left:136.0px;top:576.3px;width:9.4px;height:44.0px;background:#ecf1fa;border-radius:4.7px;"></div>
<div style="left:123.8px;top:549.0px;width:9.4px;height:71.3px;background:#6b9ad4;border-radius:4.7px;"></div>
<div style="left:166.7px;top:566.0px;width:9.4px;height:54.3px;background:#ecf1fa;border-radius:4.7px;"></div>
<div style="left:154.8px;top:532.5px;width:9.4px;height:87.8px;background:#6b9ad4;border-radius:4.7px;"></div>
<div style="left:196.3px;top:583.3px;width:9.4px;height:37.0px;background:#ecf1fa;border-radius:4.7px;"></div>
<div style="left:184.2px;top:595.4px;width:9.4px;height:24.9px;background:#6b9ad4;border-radius:4.7px;"></div>
<span class="t" style="left:66.56px;top:626.92px;font-size:7.00px;color:#8ea4cc;">Jan</span>
<span class="t" style="left:95.57px;top:626.92px;font-size:7.00px;color:#8ea4cc;">Feb</span>
<span class="t" style="left:126.27px;top:626.92px;font-size:7.00px;color:#8ea4cc;">Mar</span>
<span class="t" style="left:157.55px;top:626.92px;font-size:7.00px;color:#8ea4cc;">Apr</span>
<span class="t" style="left:187.99px;top:626.92px;font-size:7.00px;color:#8ea4cc;">May</span>
<div style="left:53.0px;top:644.3px;width:161.0px;height:30.0px;background:#fff;border-radius:2.5px;"></div>
<span class="t" style="left:59.00px;top:652.72px;font-size:7.00px;color:#1b2d5a;font-weight:700;letter-spacing:0.211px;">Net worth/Portfolio</span>
<div style="left:46.2px;top:666px;width:174.4px;height:38.1px;background:#1b2d5a;border-radius:0 0 17px 17px"></div>
<span class="t" style="left:50.25px;top:683.92px;font-size:4.40px;color:#4aba98;font-weight:700;letter-spacing:0.280px;">Dashboard</span>
<span class="t" style="left:88.70px;top:683.92px;font-size:4.40px;color:#fff;font-weight:700;letter-spacing:0.282px;">Reports</span>
<span class="t" style="left:121.50px;top:683.92px;font-size:4.40px;color:#fff;font-weight:700;letter-spacing:0.236px;">Screening</span>
<span class="t" style="left:154.70px;top:683.92px;font-size:4.40px;color:#fff;font-weight:700;letter-spacing:0.190px;">Bank Feeds</span>
<span class="t" style="left:197.20px;top:683.92px;font-size:4.40px;color:#fff;font-weight:700;letter-spacing:0.272px;">More</span>
<svg style="left:57.50px;top:668.00px;" width="11.80" height="13.20" viewBox="0 0 11.8 13.2"><rect x="1.6" y="0.5" width="3.4" height="10.3" rx="1.7" fill="none" stroke="#4aba98" stroke-width="0.85"/><rect x="6.8" y="3.3" width="3.2" height="7.5" rx="1.6" fill="none" stroke="#4aba98" stroke-width="0.85"/><path d="M0.1 12.6 H11.7" stroke="#4aba98" stroke-width="0.8"/></svg>
<svg style="left:93.20px;top:668.50px;" width="10.40" height="12.60" viewBox="0 0 10.4 12.6"><path d="M1.6 0.6 H6.4 L9.7 3.9 V11 Q9.7 12 8.7 12 H1.6 Q0.6 12 0.6 11 V1.6 Q0.6 0.6 1.6 0.6 Z" fill="none" stroke="#fff" stroke-width="0.9"/><path d="M6.4 0.6 V3.9 H9.7" fill="none" stroke="#fff" stroke-width="0.7"/><path d="M2.8 5.6 H7.4 M2.8 7.4 H7.4 M2.8 9.2 H6" stroke="#fff" stroke-width="0.75"/></svg>
<svg style="left:127.00px;top:668.40px;" width="12.60" height="12.80" viewBox="0 0 12.6 12.8"><circle cx="6.4" cy="3.9" r="3.1" fill="none" stroke="#fff" stroke-width="0.85"/><path d="M1.6 11.9 C1.2 9.2 3.4 8.1 6.4 8.1 C9.4 8.1 11.6 9.2 11.2 11.9 Z" fill="none" stroke="#fff" stroke-width="0.85" stroke-linejoin="round"/><path d="M3.6 2.6 A3.4 3.4 0 0 0 2.2 8.4" fill="none" stroke="#fff" stroke-width="0.8"/></svg>
<svg style="left:162.20px;top:668.80px;" width="11.80" height="12.00" viewBox="0 0 11.8 12"><g fill="none" stroke="#fff" stroke-width="0.75"><rect x="4.1" y="4.2" width="3.6" height="3.6"/><circle cx="1.5" cy="1.6" r="1.05"/><circle cx="10.3" cy="1.6" r="1.05"/><circle cx="1.5" cy="10.4" r="1.05"/><circle cx="10.3" cy="10.4" r="1.05"/><path d="M2.3 2.4 L4.1 4.2 M9.5 2.4 L7.7 4.2 M2.3 9.6 L4.1 7.8 M9.5 9.6 L7.7 7.8 M5.9 1 V4.2 M5.9 7.8 V11 M1.4 6 H4.1 M7.7 6 H10.4"/></g></svg>
<div style="left:197.00px;top:673.00px;width:3.4px;height:3.4px;box-sizing:border-box;border:1px solid #fff;border-radius:50%"></div>
<div style="left:201.45px;top:673.00px;width:3.4px;height:3.4px;box-sizing:border-box;border:1px solid #fff;border-radius:50%"></div>
<div style="left:205.90px;top:673.00px;width:3.4px;height:3.4px;box-sizing:border-box;border:1px solid #fff;border-radius:50%"></div>
<div style="left:102.5px;top:698.5px;width:62.3px;height:2.9px;background:#fff;border-radius:1.4px;"></div>
</body></html>
